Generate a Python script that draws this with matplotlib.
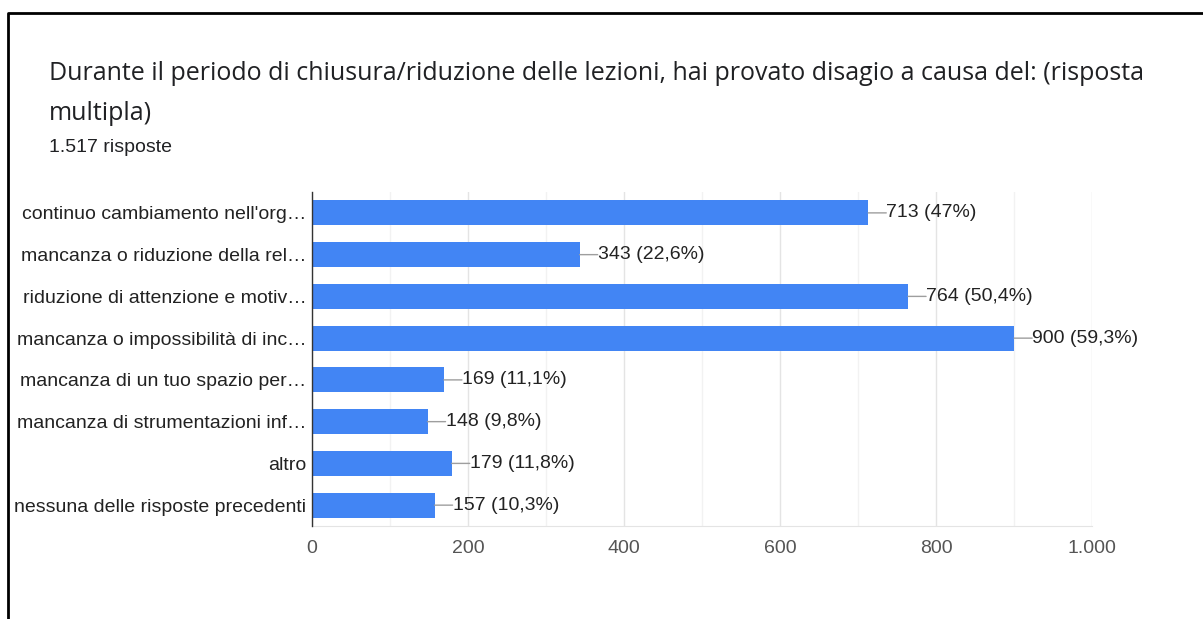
import matplotlib.pyplot as plt
from matplotlib.lines import Line2D
from matplotlib.ticker import FixedLocator

plt.rcParams["font.family"] = ["Liberation Sans", "DejaVu Sans"]

# Survey answers (multiple choice), 1.517 respondents
categories = [
    "continuo cambiamento nell'org…",
    "mancanza o riduzione della rel…",
    "riduzione di attenzione e motiv…",
    "mancanza o impossibilità di inc…",
    "mancanza di un tuo spazio per…",
    "mancanza di strumentazioni inf…",
    "altro",
    "nessuna delle risposte precedenti",
]
counts = [713, 343, 764, 900, 169, 148, 179, 157]
percents = ["47%", "22,6%", "50,4%", "59,3%", "11,1%", "9,8%", "11,8%", "10,3%"]
xticks = [0, 200, 400, 600, 800, 1000]
xtick_labels = ["0", "200", "400", "600", "800", "1.000"]

fig = plt.figure(figsize=(12.03, 6.19), dpi=100)
ax = fig.add_axes([0.2594, 0.1502, 0.6484, 0.5396])

ypos = list(range(len(categories)))
ax.barh(ypos, counts, height=0.6, color="#4285f4", zorder=3)
ax.set_ylim(len(categories) - 0.5, -0.5)
ax.set_xlim(0, 1000)

# value labels with a short leader line
for y, c, p in zip(ypos, counts, percents):
    ax.annotate("", xy=(c, y), xytext=(13, 0), textcoords="offset points",
                arrowprops=dict(arrowstyle="-", color="#9e9e9e", lw=1,
                                shrinkA=0, shrinkB=0))
    ax.annotate(f"{c} ({p})", xy=(c, y), xytext=(13, 0),
                textcoords="offset points", va="center", ha="left",
                fontsize=14, color="#222222")

ax.set_yticks(ypos)
ax.set_yticklabels(categories, fontsize=14, color="#222222")
ax.xaxis.set_major_locator(FixedLocator(xticks))
ax.set_xticklabels(xtick_labels, fontsize=14, color="#555555")
ax.xaxis.set_minor_locator(FixedLocator([100, 300, 500, 700, 900]))
ax.tick_params(axis="both", which="both", length=0)
ax.tick_params(axis="x", pad=10)
ax.tick_params(axis="y", pad=4)

ax.grid(axis="x", which="major", color="#e4e4e4", lw=1, zorder=0)
ax.grid(axis="x", which="minor", color="#f2f2f2", lw=1, zorder=0)
for side in ["top", "right"]:
    ax.spines[side].set_visible(False)
ax.spines["bottom"].set_color("#e4e4e4")
ax.spines["left"].set_color("#333333")
ax.spines["left"].set_linewidth(1)
ax.spines["left"].set_zorder(4)

title_font = ["Open Sans", "DejaVu Sans"]
fig.text(49 / 1203, 1 - 80 / 619,
         "Durante il periodo di chiusura/riduzione delle lezioni, hai provato disagio a causa del: (risposta",
         fontsize=18, color="#202124", family=title_font, va="baseline")
fig.text(49 / 1203, 1 - 120 / 619, "multipla)",
         fontsize=18, color="#202124", family=title_font, va="baseline")
fig.text(49 / 1203, 1 - 152 / 619, "1.517 risposte", fontsize=14, color="#202124", va="baseline")

# outer frame (top and left edges)
fig.add_artist(Line2D([8 / 1203, 8 / 1203, 1], [0, 1 - 13 / 619, 1 - 13 / 619],
                      transform=fig.transFigure, color="black", lw=2))

fig.savefig("out.png", dpi=100)
